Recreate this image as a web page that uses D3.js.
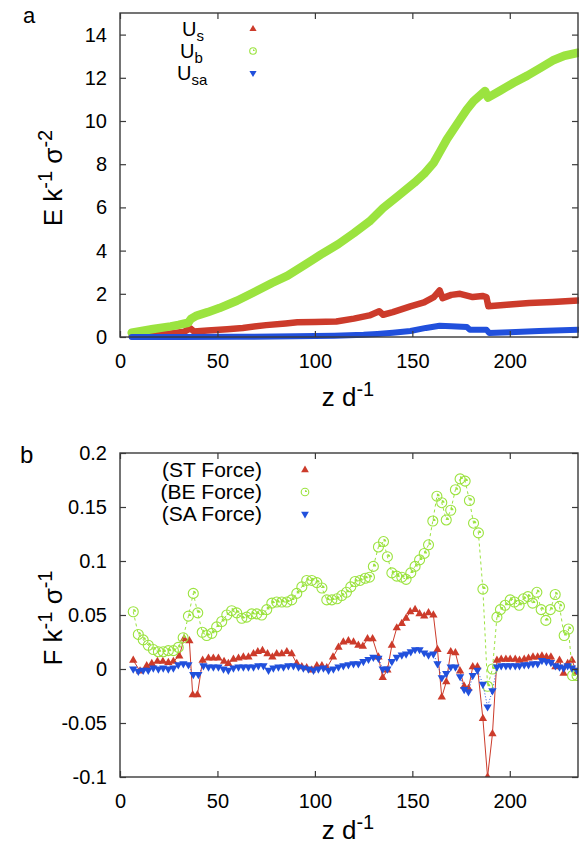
<!DOCTYPE html>
<html>
<head>
<meta charset="utf-8">
<script src="https://cdn.jsdelivr.net/npm/d3@7"></script>
<style>
  body { margin: 0; background: #fff; }
  svg text { font-family: "Liberation Sans", Arial, Helvetica, sans-serif; fill: #000; }
</style>
</head>
<body>
<svg id="fig" width="579" height="846"></svg>
<script>
// ---------- panel a: energies along the pulling coordinate ----------
const usZ  = [6, 15, 25, 33, 36, 38, 45, 55, 63, 75, 85, 91, 100, 111, 120, 128, 133, 135, 140, 149, 156, 161, 164, 165.5, 170, 174.5, 181, 186, 188, 189, 200, 210, 222, 235];
const usE  = [0.03, 0.08, 0.15, 0.25, 0.4, 0.25, 0.3, 0.36, 0.42, 0.55, 0.63, 0.68, 0.7, 0.72, 0.85, 1.0, 1.19, 1.03, 1.15, 1.42, 1.6, 1.85, 2.16, 1.8, 1.95, 2.0, 1.85, 1.9, 1.85, 1.42, 1.5, 1.57, 1.62, 1.69];

const ubZ  = [6, 17, 26, 30, 35, 36.5, 39.4, 45, 51, 60, 68, 78, 86, 95, 103, 112, 120, 128, 135, 143, 151, 156, 161, 164.3, 167.7, 174.5, 178, 181.4, 187.3, 188.8, 195, 202, 209, 216, 222, 228, 235];
const ubE  = [0.2, 0.37, 0.49, 0.56, 0.66, 0.85, 0.99, 1.15, 1.34, 1.68, 2.04, 2.5, 2.84, 3.35, 3.81, 4.3, 4.81, 5.35, 5.97, 6.55, 7.14, 7.55, 8.07, 8.6, 9.15, 10.07, 10.54, 10.92, 11.39, 11.08, 11.4, 11.77, 12.1, 12.47, 12.8, 13.02, 13.16];

const usaZ = [6, 30, 60, 90, 110, 125, 132, 140, 149, 157, 164, 170, 178, 179.5, 188, 189.5, 200, 215, 235];
const usaE = [0, 0, 0.01, 0.03, 0.06, 0.1, 0.14, 0.2, 0.28, 0.42, 0.52, 0.5, 0.46, 0.34, 0.34, 0.18, 0.22, 0.28, 0.34];

// ---------- panel b: force contributions ----------
const stZ = [6.8, 10.3, 13.7, 16.3, 19.2, 22, 24.8, 27.4, 30.4, 32.9, 35.6, 37.3, 39.7, 42.4, 45.4, 47.9, 50.5, 53.4, 55.6, 58.2, 60.8, 63.3, 65.9, 68.5, 70.7, 73.1, 75.7, 78.2, 80.4, 83, 85.6, 88.1, 90.7, 93.3, 95.8, 98.4, 101, 103.6, 106.1, 109.3, 112.1, 114.6, 117.2, 119.8, 122.3, 124.6, 127, 129.6, 132.6, 134.8, 137.2, 139.5, 142, 144.6, 146.8, 148.9, 151.4, 153.7, 156.1, 158.3, 160.8, 162.9, 165.1, 167.4, 169.7, 172.1, 174.5, 176.6, 178.8, 181, 183.4, 186.2, 188.6, 191.1, 193.4, 195.6, 198, 200.2, 202.8, 205, 207.4, 209.6, 211.9, 214.3, 216.5, 218.8, 221.1, 223.4, 225.5, 227.6, 229.7, 231.9, 234.4];
const stF = [0.008, -0.002, 0.003, 0.005, 0.007, 0.007, 0.006, 0.007, 0.012, 0.028, 0.026, -0.024, -0.024, 0.008, 0.010, 0.010, 0.010, 0.007, 0.005, 0.009, 0.010, 0.011, 0.011, 0.014, 0.016, 0.017, 0.014, 0.011, 0.014, 0.014, 0.016, 0.014, 0.005, 0.002, 0.001, -0.001, 0.003, 0.003, 0.001, 0.011, 0.020, 0.025, 0.026, 0.025, 0.022, 0.021, 0.028, 0.028, 0.011, -0.008, -0.001, 0.022, 0.038, 0.042, 0.047, 0.053, 0.055, 0.051, 0.049, 0.052, 0.050, 0.018, -0.026, -0.012, 0.016, 0.015, -0.002, -0.016, -0.018, 0.002, 0.002, -0.046, -0.1, -0.060, 0.008, 0.009, 0.009, 0.009, 0.009, 0.008, 0.009, 0.010, 0.011, 0.011, 0.012, 0.011, 0.011, 0.002, 0.008, -0.004, 0.005, 0.008, -0.003];

const beZ = [6.8, 9.4, 11.9, 14.5, 17.1, 19.7, 22.2, 24.8, 27.4, 29.9, 32.4, 35.1, 37.6, 39.9, 42.2, 44.5, 47.1, 49.6, 52.2, 54.8, 57.3, 59.9, 62.5, 65, 67.6, 70.2, 72.7, 75.3, 77.9, 80.4, 83, 85.6, 88.1, 90.7, 93.3, 95.8, 98.4, 101, 103.6, 106.1, 108.7, 111.3, 113.8, 116.2, 118.4, 120.6, 123.2, 125.8, 128, 130, 132.6, 135.2, 137.2, 139.5, 142, 144.6, 146.8, 149.2, 151.4, 153.7, 156.1, 158.3, 160.5, 162.6, 165.1, 167.4, 169.7, 172.1, 174.5, 177.1, 179.3, 181.4, 183.9, 186.2, 188.6, 191.1, 193.4, 195.2, 197.6, 200.2, 202.4, 204.8, 207, 209.3, 211.7, 213.9, 216.1, 218.5, 220.8, 223.3, 225.5, 227.9, 230.1, 232.2, 234.5];
const beF = [0.053, 0.032, 0.027, 0.022, 0.018, 0.016, 0.016, 0.017, 0.017, 0.020, 0.029, 0.049, 0.070, 0.052, 0.034, 0.031, 0.033, 0.039, 0.044, 0.050, 0.054, 0.052, 0.047, 0.048, 0.051, 0.051, 0.050, 0.055, 0.061, 0.062, 0.062, 0.062, 0.064, 0.070, 0.076, 0.082, 0.082, 0.080, 0.075, 0.064, 0.064, 0.065, 0.068, 0.071, 0.076, 0.081, 0.082, 0.084, 0.085, 0.095, 0.113, 0.118, 0.104, 0.089, 0.086, 0.085, 0.083, 0.089, 0.095, 0.101, 0.107, 0.115, 0.137, 0.160, 0.154, 0.138, 0.147, 0.166, 0.176, 0.174, 0.156, 0.135, 0.126, 0.074, -0.016, 0.000, 0.048, 0.055, 0.059, 0.064, 0.062, 0.059, 0.065, 0.067, 0.061, 0.071, 0.055, 0.045, 0.055, 0.069, 0.058, 0.031, 0.037, -0.006, -0.006];

const saZ = [6.8, 9.4, 11.9, 14.5, 17.1, 19.7, 22.2, 24.8, 27.4, 29.9, 32.5, 35.1, 37.6, 40.2, 42.8, 45.4, 47.9, 50.5, 53.1, 55.6, 58.2, 60.8, 63.3, 65.9, 68.5, 71, 73.6, 76.2, 78.7, 81.3, 83.9, 86.4, 89, 91.6, 94.1, 96.7, 99.3, 101.8, 104.4, 107, 109.5, 112.1, 114.6, 117.2, 119.8, 122.3, 124.9, 127.5, 130, 132.6, 134.8, 137.2, 139.5, 142, 144.6, 146.8, 149.2, 151.4, 153.7, 156.1, 158.3, 160.8, 162.9, 165.1, 167.4, 169.7, 172.1, 174.5, 176.6, 178.8, 181, 183.4, 186.2, 188.6, 191.1, 193.4, 195.6, 198, 200.2, 202.8, 205, 207.4, 209.6, 211.9, 214.3, 216.5, 218.8, 221.1, 223.4, 225.5, 227.6, 229.7, 231.9, 234.4];
const saF = [0.000, -0.002, -0.001, -0.001, 0.001, 0.000, 0.001, 0.000, 0.001, 0.004, 0.005, 0.004, -0.005, -0.005, 0.003, 0.002, 0.002, 0.002, 0.000, -0.001, 0.001, 0.002, 0.002, 0.002, 0.002, 0.003, 0.003, -0.001, 0.001, 0.002, 0.002, 0.003, 0.003, 0.002, 0.001, 0.000, -0.001, 0.000, 0.001, -0.001, 0.000, 0.002, 0.003, 0.004, 0.005, 0.005, 0.007, 0.009, 0.011, 0.010, 0.000, 0.000, 0.007, 0.011, 0.013, 0.014, 0.016, 0.018, 0.018, 0.015, 0.013, 0.014, 0.005, -0.008, -0.004, 0.002, 0.002, -0.007, -0.019, -0.021, -0.006, -0.001, -0.014, -0.035, -0.020, 0.002, 0.003, 0.003, 0.003, 0.003, 0.003, 0.004, 0.004, 0.005, 0.005, 0.008, 0.007, 0.006, 0.003, 0.002, 0.001, 0.003, 0.001, -0.001];

// ---------- ticks and labels ----------
const xTicks  = [0, 50, 100, 150, 200];
const yTicksA = [0, 2, 4, 6, 8, 10, 12, 14];
const yTicksB = [-0.1, -0.05, 0, 0.05, 0.1, 0.15, 0.2];
const legendA = [["U", "s"], ["U", "b"], ["U", "sa"]];
const legendB = ["(ST Force)", "(BE Force)", "(SA Force)"];

const RED = "#cc3b2b", GREEN = "#9be33f", BLUE = "#2150dc";
const AXIS = "#3a3a3a";

const svg = d3.select("#fig");
const L = 120, R = 578;
const x = d3.scaleLinear().domain([0, 235]).range([L, R]);
const yA = d3.scaleLinear().domain([0, 15]).range([337, 13]);
const yB = d3.scaleLinear().domain([-0.1, 0.2]).range([777, 453]);

// gnuplot-like frame with inward, mirrored ticks
function frame(y, yTicks, fmt) {
  const [b, t] = y.range();
  const g = svg.append("g");
  const styleAxis = sel => {
    sel.select(".domain").remove();
    sel.selectAll(".tick line").attr("stroke", AXIS).attr("stroke-width", 1.2);
    sel.attr("font-size", 20).attr("font-family", '"Liberation Sans", Arial, sans-serif');
  };
  g.append("g").attr("transform", `translate(${L},0)`)
    .call(d3.axisLeft(y).tickValues(yTicks).tickSize(-6).tickPadding(13).tickFormat(fmt)).call(styleAxis);
  g.append("g").attr("transform", `translate(${R},0)`)
    .call(d3.axisRight(y).tickValues(yTicks).tickSize(-6).tickFormat("")).call(styleAxis);
  g.append("g").attr("transform", `translate(0,${b})`)
    .call(d3.axisBottom(x).tickValues(xTicks).tickSize(-6).tickPadding(17).tickFormat(d3.format("d"))).call(styleAxis);
  g.append("g").attr("transform", `translate(0,${t})`)
    .call(d3.axisTop(x).tickValues(xTicks).tickSize(-6).tickFormat("")).call(styleAxis);
  // mirrored axes carry no labels
  g.selectAll("text").filter(function () { return this.textContent === ""; }).remove();
  g.append("rect").attr("x", L).attr("y", t).attr("width", R - L).attr("height", b - t)
    .attr("fill", "none").attr("stroke", AXIS).attr("stroke-width", 1.4);
  g.selectAll("text").attr("fill", "#000");
  return g;
}

// ---------- panel a ----------
const lineA = (zs, vs) => d3.line().x((d, i) => x(zs[i])).y(d => yA(d))(vs);
const bandA = svg.append("g").attr("fill", "none").attr("stroke-linejoin", "round").attr("stroke-linecap", "round");
bandA.append("path").attr("d", lineA(usZ, usE)).attr("stroke", RED).attr("stroke-width", 6.5);
bandA.append("path").attr("d", lineA(ubZ, ubE)).attr("stroke", GREEN).attr("stroke-width", 8.5);
bandA.append("path").attr("d", lineA(usaZ, usaE)).attr("stroke", BLUE).attr("stroke-width", 6);

frame(yA, yTicksA, d3.format("d"));

// markers
const triUp = d3.symbol().type(d3.symbolTriangle);
function ring(g, cx, cy, r) {
  g.append("circle").attr("cx", cx).attr("cy", cy).attr("r", r)
    .attr("fill", "none").attr("stroke", GREEN).attr("stroke-width", 1.1);
  g.append("path").attr("transform", `translate(${cx},${cy})`)
    .attr("d", d3.arc().innerRadius(0).outerRadius(r * 0.55).startAngle(0).endAngle(Math.PI / 2)())
    .attr("fill", GREEN);
}

// legend a
const legA = svg.append("g");
legendA.forEach(([base, sub], i) => {
  const yy = 36 + i * 22;
  const t = legA.append("text").attr("x", [182, 180, 177][i]).attr("y", yy).attr("font-size", 20);
  t.append("tspan").text(base);
  t.append("tspan").attr("dy", 5).attr("font-size", 15).text(sub);
});
legA.append("path").attr("transform", "translate(253,29)").attr("d", triUp.size(22)()).attr("fill", RED);
ring(legA, 253, 51, 3.3);
legA.append("path").attr("transform", "translate(253,73) rotate(180)").attr("d", triUp.size(22)()).attr("fill", BLUE);

// ---------- panel b ----------
svg.append("clipPath").attr("id", "clipB").append("rect")
  .attr("x", L).attr("y", 453).attr("width", R - L).attr("height", 324);
const gB = svg.append("g").attr("clip-path", "url(#clipB)");
const lineB = (zs, vs) => d3.line().x((d, i) => x(zs[i])).y(d => yB(d))(vs);

// ST: solid red, BE: dashed green, SA: dotted blue
gB.append("path").attr("d", lineB(stZ, stF)).attr("fill", "none").attr("stroke", RED).attr("stroke-width", 1);
gB.append("g").selectAll("path").data(stF).join("path")
  .attr("transform", (d, i) => `translate(${x(stZ[i])},${yB(d)})`)
  .attr("d", triUp.size(30)()).attr("fill", RED);

gB.append("path").attr("d", lineB(beZ, beF)).attr("fill", "none").attr("stroke", GREEN)
  .attr("stroke-width", 1).attr("stroke-dasharray", "3,3");
const gRing = gB.append("g");
beF.forEach((d, i) => ring(gRing, x(beZ[i]), yB(d), 5));

gB.append("path").attr("d", lineB(saZ, saF)).attr("fill", "none").attr("stroke", BLUE)
  .attr("stroke-width", 1).attr("stroke-dasharray", "1,2");
gB.append("g").selectAll("path").data(saF).join("path")
  .attr("transform", (d, i) => `translate(${x(saZ[i])},${yB(d)}) rotate(180)`)
  .attr("d", triUp.size(30)()).attr("fill", BLUE);

frame(yB, yTicksB, d => String(d));

// legend b
const legB = svg.append("g");
legendB.forEach((s, i) => {
  legB.append("text").attr("x", 262).attr("y", 477 + i * 22).attr("text-anchor", "end")
    .attr("font-size", 21).text(s);
});
legB.append("path").attr("transform", "translate(305,470)").attr("d", triUp.size(26)()).attr("fill", RED);
ring(legB, 305, 492, 3.8);
legB.append("path").attr("transform", "translate(305,514) rotate(180)").attr("d", triUp.size(26)()).attr("fill", BLUE);

// ---------- axis titles and panel letters ----------
// parts alternate plain text and superscripts: [text, sup, text, sup, ...]
function supText(g, parts, attrs) {
  const t = g.append("text");
  Object.entries(attrs).forEach(([k, v]) => t.attr(k, v));
  parts.forEach((s, i) => {
    const sp = t.append("tspan").text(s);
    if (i % 2 === 1) sp.attr("dy", -10).attr("font-size", 20);
    else if (i > 0) sp.attr("dy", 10);
  });
  return t;
}
const titles = svg.append("g");
supText(titles, ["E k", "-1", " \u03c3", "-2"],
  { "text-anchor": "middle", "font-size": 26, transform: "translate(62,178) rotate(-90)" });
supText(titles, ["F k", "-1", " \u03c3", "-1"],
  { "text-anchor": "middle", "font-size": 26, transform: "translate(62,618) rotate(-90)" });
supText(titles, ["z d", "-1"], { x: 348, y: 406, "text-anchor": "middle", "font-size": 26 });
supText(titles, ["z d", "-1"], { x: 348, y: 839, "text-anchor": "middle", "font-size": 26 });

svg.append("text").attr("x", 23).attr("y", 23).attr("font-size", 22).text("a");
svg.append("text").attr("x", 20).attr("y", 463).attr("font-size", 24)
  .attr("font-family", '"Liberation Mono", "Courier New", monospace').text("b");
</script>
</body>
</html>
